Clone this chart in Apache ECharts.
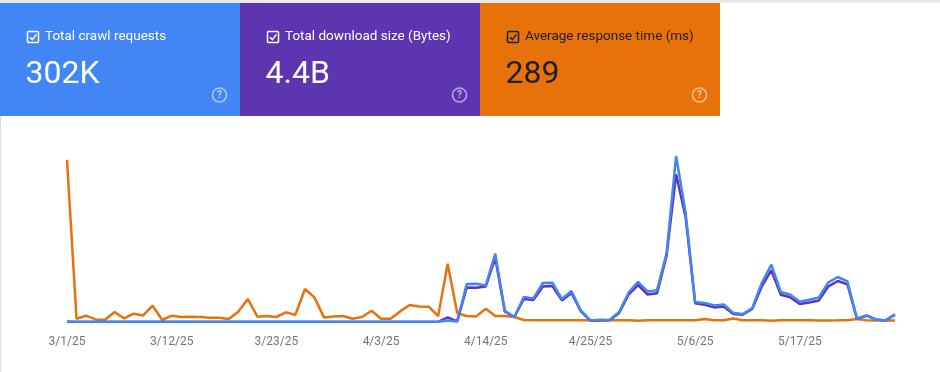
<!DOCTYPE html>
<html>
<head>
<meta charset="utf-8">
<script src="https://cdn.jsdelivr.net/npm/echarts@6/dist/echarts.min.js"></script>
<style>
html,body{margin:0;padding:0;background:#fff;}
#c{width:940px;height:372px;}
</style>
</head>
<body>
<div id="c"></div>
<script>
// Categories: one per day, 3/1/25 .. 5/27/25
var dates = [
 "3/1/25","3/2/25","3/3/25","3/4/25","3/5/25","3/6/25","3/7/25","3/8/25","3/9/25","3/10/25",
 "3/11/25","3/12/25","3/13/25","3/14/25","3/15/25","3/16/25","3/17/25","3/18/25","3/19/25","3/20/25",
 "3/21/25","3/22/25","3/23/25","3/24/25","3/25/25","3/26/25","3/27/25","3/28/25","3/29/25","3/30/25",
 "3/31/25","4/1/25","4/2/25","4/3/25","4/4/25","4/5/25","4/6/25","4/7/25","4/8/25","4/9/25",
 "4/10/25","4/11/25","4/12/25","4/13/25","4/14/25","4/15/25","4/16/25","4/17/25","4/18/25","4/19/25",
 "4/20/25","4/21/25","4/22/25","4/23/25","4/24/25","4/25/25","4/26/25","4/27/25","4/28/25","4/29/25",
 "4/30/25","5/1/25","5/2/25","5/3/25","5/4/25","5/5/25","5/6/25","5/7/25","5/8/25","5/9/25",
 "5/10/25","5/11/25","5/12/25","5/13/25","5/14/25","5/15/25","5/16/25","5/17/25","5/18/25","5/19/25",
 "5/20/25","5/21/25","5/22/25","5/23/25","5/24/25","5/25/25","5/26/25","5/27/25"
];

// Total crawl requests per day
var crawlRequests = [
 120,60,45,50,38,55,42,48,35,52,40,44,39,47,41,36,50,43,38,46,
 40,37,45,49,42,60,55,39,41,44,36,40,48,38,42,50,47,45,43,60,
 350,130,8360,8430,8050,15030,2490,1100,5500,5190,8580,8650,5060,6820,2490,
 350,510,440,2160,6450,8820,6730,7000,15180,36520,24050,4400,4180,3650,3870,
 2000,1760,3040,8580,12610,6600,6010,4470,4910,5410,8710,9900,8930,730,1450,
 570,350,1670
];

// Total download size per day (MB)
var downloadMB = [
 0.9,0.3,0.2,0.3,0.2,0.3,0.2,0.3,0.2,0.3,0.2,0.2,0.2,0.3,0.2,0.2,0.3,0.2,0.2,0.3,
 0.2,0.2,0.3,0.3,0.2,0.4,0.3,0.2,0.2,0.3,0.2,0.2,0.3,0.2,0.2,0.3,0.3,0.3,0.2,0.4,
 15.6,2,117.6,116.6,121,217.6,36,17,78.2,74.8,121,122.4,73.4,98.6,36,
 4.4,6.1,6.1,30,92.8,125.8,93.5,97.9,225.4,502.2,356.3,63.9,58.8,49.6,53,
 27.5,24.8,44.2,121,175.4,92.8,83.6,61.2,66.6,73.4,121,139.4,127.8,11.2,21.4,
 8.8,5.4,24.8
];

// Average response time per day (ms)
var responseMs = [
 22720,462,882,364,322,1400,504,1162,924,2282,280,882,700,742,700,602,602,420,1442,3220,
 742,840,700,1344,1022,4620,3444,644,784,840,462,700,1582,462,462,1484,2380,2184,2142,840,
 8162,1260,840,784,1862,840,840,700,280,
 260,250,240,235,230,235,230,225,230,240,235,180,230,235,240,245,250,250,420,260,
 240,480,250,245,240,160,230,240,235,230,225,220,230,260,420,250,220,210,220
];

var cardTitles = ["Total crawl requests","Total download size (Bytes)","Average response time (ms)"];
var cardValues = ["302K","4.4B","289"];
var cardColors = ["#4285f4","#5e35b1","#e8710a"];
var cardText = ["#ffffff","#ffffff","#202124"];

var FONT = "Roboto, 'Noto Sans', sans-serif";
var graphics = [
  {type:'rect', shape:{x:0,y:0,width:940,height:3}, style:{fill:'#e8eaed'}, silent:true},
  {type:'rect', shape:{x:0,y:116,width:1,height:256}, style:{fill:'#dadce0'}, silent:true}
];
for (var k = 0; k < 3; k++) {
  var ox = k * 240;
  var tc = cardText[k];
  graphics.push({type:'rect', shape:{x:ox, y:3, width:240, height:113}, style:{fill:cardColors[k]}, silent:true});
  graphics.push({type:'rect', shape:{x:ox+27.5, y:31.5, width:11, height:11, r:1}, style:{fill:'none', stroke:tc, lineWidth:1.5}, silent:true});
  graphics.push({type:'polyline', shape:{points:[[ox+30,37.2],[ox+32.4,39.6],[ox+36.4,34.4]]}, style:{fill:'none', stroke:tc, lineWidth:1.5}, silent:true});
  graphics.push({type:'text', x:ox+45, y:37, style:{text:cardTitles[k], font:'13.5px '+FONT, fill:tc, textAlign:'left', textVerticalAlign:'middle'}, silent:true});
  graphics.push({type:'text', x:ox+25.5, y:58.5, style:{text:cardValues[k], font:'32px '+FONT, fill:tc, textAlign:'left', textVerticalAlign:'top'}, silent:true});
  graphics.push({type:'circle', shape:{cx:ox+219.5, cy:95, r:7}, style:{fill:'none', stroke:'rgba(255,255,255,0.55)', lineWidth:1.6}, silent:true});
  graphics.push({type:'text', x:ox+219.5, y:95.5, style:{text:'?', font:'bold 10px '+FONT, fill:'rgba(255,255,255,0.6)', textAlign:'center', textVerticalAlign:'middle'}, silent:true});
}

var chart = echarts.init(document.getElementById('c'), null, {renderer:'canvas'});
chart.setOption({
  animation:false,
  backgroundColor:'#ffffff',
  graphic: graphics,
  grid:{left:67, right:45, top:150, bottom:50},
  xAxis:{
    type:'category', data:dates, boundaryGap:false,
    axisLine:{show:false}, axisTick:{show:false}, splitLine:{show:false},
    axisLabel:{interval:10, color:'#70757a', fontSize:12, fontFamily:FONT, margin:14}
  },
  yAxis:[
    {type:'value', min:0, max:37840, show:false, splitLine:{show:false}},
    {type:'value', min:0, max:584.8, show:false, splitLine:{show:false}},
    {type:'value', min:0, max:24080, show:false, splitLine:{show:false}}
  ],
  series:[
    {name:'Average response time (ms)', type:'line', yAxisIndex:2, data:responseMs, symbol:'none', z:2,
     lineStyle:{color:'#e8710a', width:2.5}, itemStyle:{color:'#e8710a'}},
    {name:'Total download size (Bytes)', type:'line', yAxisIndex:1, data:downloadMB, symbol:'none', z:3,
     lineStyle:{color:'#5e35b1', width:2.5}, itemStyle:{color:'#5e35b1'}},
    {name:'Total crawl requests', type:'line', yAxisIndex:0, data:crawlRequests, symbol:'none', z:4,
     lineStyle:{color:'#4285f4', width:2.5}, itemStyle:{color:'#4285f4'}}
  ]
});
</script>
</body>
</html>
